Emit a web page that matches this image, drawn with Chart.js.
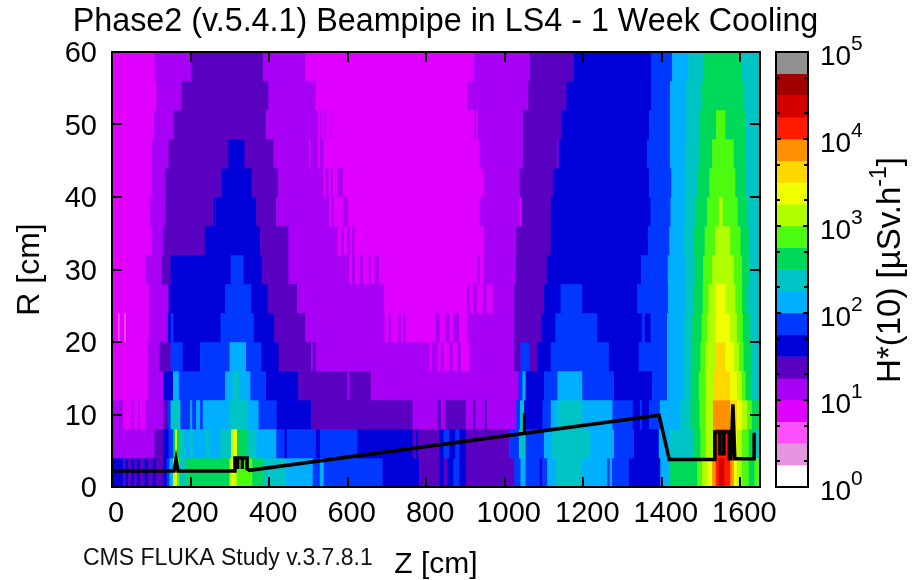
<!DOCTYPE html>
<html>
<head>
<meta charset="utf-8">
<title>Phase2 Beampipe</title>
<script src="https://cdn.jsdelivr.net/npm/chart.js@4"></script>
<style>
  html, body { margin: 0; padding: 0; background: #fff; }
  #mapa { position: absolute; left: 0; top: 0; }
  #barra { position: absolute; left: 760px; top: 0; }
</style>
</head>
<body>
<canvas id="mapa" width="912" height="580"></canvas>
<canvas id="barra" width="152" height="580"></canvas>
<script>
const rEdges = [0, 4, 8, 12, 16, 20, 24, 28, 32, 36, 40, 44, 48, 52, 56, 60];
const zTicks = [0, 200, 400, 600, 800, 1000, 1200, 1400, 1600];
const doseEdges = [1, 1.78, 3.16, 5.62, 10, 17.8, 31.6, 56.2, 100, 178, 316, 562, 1000, 1780, 3160, 5620, 10000, 17800, 31600, 56200, 100000];
const doseTicks = [1, 2, 5, 10, 20, 50, 100, 200, 500, 1000, 2000, 5000, 10000, 20000, 50000, 100000];
const doseExponents = [0, 1, 2, 3, 4, 5];
const levelColors = ['#ffffff', '#e696e0', '#ff50ff', '#e000ff', '#a800f5', '#5a00c0', '#0000d8', '#0038ff',
  '#00b0ff', '#00c4c4', '#00d85a', '#4cfb10', '#b0ff00', '#f0ff00', '#ffd800', '#ff9000', '#ff1a00', '#d40000', '#a00000', '#909090'];

// each R band: runs of [Z where the run ends, dose level]
const band00 = [[29,6],[36,5],[42,6],[50,5],[56,6],[64,5],[72,6],[84,5],[92,6],[105,5],[112,6],[131,5],[140,6],[147,7],[156,8],[160,12],[166,13],[172,11],[190,9],[300,10],[305,12],[312,13],[319,12],[358,11],[385,10],[444,9],[512,8],[530,7],[540,8],[690,7],[783,6],[834,5],[845,6],[855,5],[870,6],[885,7],[902,6],[1025,5],[1041,7],[1054,8],[1090,7],[1096,6],[1109,7],[1130,8],[1198,9],[1262,8],[1268,7],[1274,8],[1317,7],[1397,6],[1420,8],[1491,10],[1503,11],[1516,12],[1529,13],[1538,15],[1546,16],[1560,17],[1575,16],[1584,15],[1592,13],[1605,12],[1622,11],[1637,10],[1650,11]];
const band01 = [[24,4],[109,4],[131,5],[145,6],[157,7],[162,10],[166,13],[172,10],[186,9],[200,8],[206,9],[240,8],[248,9],[276,8],[304,9],[309,12],[319,13],[332,10],[347,10],[368,9],[419,8],[440,7],[446,6],[452,7],[520,7],[530,6],[540,7],[626,7],[652,6],[766,6],[775,5],[780,6],[834,5],[845,6],[860,7],[875,6],[885,7],[902,6],[1012,5],[1037,7],[1054,9],[1101,7],[1122,8],[1219,9],[1279,8],[1330,7],[1393,6],[1419,8],[1482,9],[1499,10],[1512,11],[1531,12],[1537,15],[1575,16],[1584,15],[1592,13],[1605,12],[1622,11],[1635,10],[1650,9]];
const band02 = [[29,4],[50,3],[56,4],[68,3],[72,4],[86,3],[131,4],[143,5],[150,7],[175,9],[200,7],[205,8],[215,7],[225,8],[232,7],[240,8],[300,8],[345,9],[374,8],[420,7],[508,6],[766,5],[830,4],[838,5],[850,4],[862,5],[880,5],[902,5],[920,4],[926,5],[950,4],[956,5],[1030,4],[1040,7],[1050,9],[1097,6],[1118,7],[1135,8],[1198,9],[1275,8],[1327,7],[1345,6],[1350,7],[1368,6],[1396,7],[1448,8],[1474,9],[1497,10],[1512,11],[1531,12],[1575,15],[1592,14],[1605,13],[1618,12],[1630,11],[1650,10]];
const band03 = [[92,3],[132,4],[156,6],[171,8],[289,7],[308,8],[324,9],[353,8],[393,7],[461,6],[475,6],[480,5],[600,5],[605,4],[615,5],[660,5],[1036,4],[1046,7],[1054,8],[1101,6],[1135,7],[1198,8],[1279,7],[1376,6],[1414,7],[1457,8],[1476,9],[1495,10],[1512,11],[1533,12],[1575,14],[1592,13],[1605,12],[1614,11],[1629,10],[1650,9]];
const band04 = [[92,3],[122,4],[150,5],[181,7],[225,6],[241,7],[300,7],[342,8],[381,7],[425,6],[508,5],[512,4],[520,5],[530,4],[809,4],[815,3],[830,4],[838,3],[846,4],[860,3],[868,4],[880,3],[890,4],[910,3],[925,4],[1025,4],[1041,5],[1063,7],[1084,5],[1118,6],[1266,7],[1342,6],[1414,7],[1457,8],[1478,9],[1499,10],[1512,11],[1537,12],[1563,14],[1584,13],[1597,12],[1609,11],[1629,10],[1650,9]];
const band05 = [[16,3],[20,2],[32,3],[36,2],[95,3],[143,4],[150,6],[157,7],[165,6],[277,6],[362,7],[414,6],[493,5],[500,4],[695,4],[705,3],[712,4],[730,3],[736,4],[742,3],[748,4],[810,3],[825,3],[835,4],[850,3],[860,4],[870,3],[885,4],[905,3],[915,4],[1025,4],[1095,5],[1130,6],[1236,7],[1350,6],[1357,7],[1372,6],[1414,7],[1457,8],[1478,9],[1502,10],[1516,11],[1537,12],[1575,13],[1592,12],[1607,11],[1626,10],[1650,9]];
const band06 = [[95,3],[145,4],[289,6],[355,7],[397,6],[472,5],[680,4],[694,4],[700,3],[800,3],[905,3],[912,4],[920,3],[930,4],[945,3],[955,4],[963,3],[970,3],[1025,4],[1101,5],[1143,6],[1148,7],[1180,7],[1198,7],[1204,6],[1338,6],[1417,7],[1459,8],[1482,9],[1505,10],[1520,11],[1537,12],[1563,13],[1588,12],[1605,11],[1620,10],[1650,9]];
const band07 = [[86,3],[128,4],[150,5],[303,6],[336,7],[382,6],[450,5],[605,4],[612,3],[620,4],[632,3],[640,4],[655,3],[660,4],[670,3],[681,4],[931,3],[938,4],[948,3],[1029,4],[1108,5],[1348,6],[1416,7],[1461,8],[1484,9],[1506,10],[1529,11],[1584,12],[1605,11],[1622,10],[1650,9]];
const band08 = [[102,3],[131,4],[237,5],[378,6],[450,5],[575,4],[585,3],[592,4],[600,3],[606,4],[612,3],[618,4],[635,3],[948,3],[1030,4],[1118,5],[1366,6],[1420,7],[1457,8],[1482,9],[1510,10],[1536,11],[1575,12],[1601,11],[1622,10],[1650,9]];
const band09 = [[97,3],[136,4],[260,5],[263,6],[265,5],[368,6],[419,5],[554,4],[560,3],[565,4],[570,3],[590,3],[601,4],[931,3],[936,3],[1039,4],[1044,3],[1118,5],[1372,6],[1423,7],[1459,8],[1485,9],[1516,10],[1546,11],[1556,12],[1594,11],[1618,10],[1650,9]];
const band10 = [[102,3],[136,4],[279,5],[283,6],[356,6],[424,5],[539,4],[545,3],[552,4],[558,3],[564,4],[574,3],[588,4],[937,3],[942,3],[946,3],[1039,4],[1124,5],[1368,6],[1425,7],[1461,8],[1492,9],[1522,10],[1588,11],[1614,10],[1650,9]];
const band11 = [[102,3],[145,4],[297,5],[338,6],[346,5],[412,5],[503,4],[506,3],[515,4],[525,4],[530,3],[539,4],[936,3],[1047,4],[1135,5],[1138,4],[1363,6],[1422,7],[1461,8],[1495,9],[1529,10],[1584,11],[1614,10],[1650,9]];
const band12 = [[108,3],[158,4],[393,5],[396,4],[525,4],[531,3],[534,4],[541,3],[544,4],[558,3],[561,4],[923,3],[927,4],[931,3],[936,4],[1047,4],[1146,5],[1368,6],[1422,7],[1463,8],[1495,9],[1539,10],[1563,11],[1614,10],[1650,9]];
const band13 = [[114,3],[178,4],[399,5],[519,4],[906,3],[1061,4],[1158,5],[1374,6],[1422,7],[1463,8],[1502,9],[1609,10],[1650,9]];
const band14 = [[109,3],[203,4],[385,5],[493,4],[923,3],[1065,4],[1177,5],[1374,6],[1427,7],[1468,8],[1508,9],[1605,10],[1650,9]];
const bands = [band00, band01, band02, band03, band04, band05, band06, band07, band08, band09, band10, band11, band12, band13, band14];

// beampipe outline
const pipeZ = [0, 158, 163, 168, 312, 313, 313, 320, 320, 320, 332, 332, 332, 344, 344, 350, 1393, 1419, 1535, 1535, 1548, 1548, 1558, 1558, 1548, 1548, 1558, 1558, 1572, 1572, 1576, 1581, 1586, 1635, 1635];
const pipeR = [2.2, 2.2, 3.8, 2.2, 2.2, 2.8, 4, 4, 2.5, 4, 4, 2.5, 4, 4, 2.5, 2.3, 9.9, 3.8, 3.8, 7.6, 7.6, 4.6, 4.6, 7.6, 7.6, 4.6, 4.6, 7.6, 7.6, 3.9, 3.9, 11.4, 3.9, 3.9, 7.5];
const flangeZ = [1050, 1050];
const flangeR = [7.4, 10.2];

function crearCeldas() {
  const celdas = [];
  bands.forEach(function(runs, i) {
    let inicio = 0;
    runs.forEach(function(run) {
      celdas.push({ x: [inicio, run[0]], y: (rEdges[i] + rEdges[i + 1]) / 2, level: run[1] });
      inicio = run[0];
    });
  });
  return celdas;
}

const marco = {
  id: 'marco',
  afterDatasetsDraw(chart, args, opts) {
    const ctx = chart.ctx, a = chart.chartArea;
    ctx.save();
    ctx.strokeStyle = '#000';
    ctx.lineWidth = 2;
    opts.scales.forEach(function(id) {
      const s = chart.scales[id];
      s.ticks.forEach(function(t) {
        const p = Math.round(s.getPixelForValue(t.value));
        const largo = t.major ? opts.mayor : opts.menor;
        ctx.beginPath();
        if (s.isHorizontal()) {
          ctx.moveTo(p, a.bottom); ctx.lineTo(p, a.bottom - largo);
          ctx.moveTo(p, a.top); ctx.lineTo(p, a.top + largo);
        } else {
          ctx.moveTo(a.left, p); ctx.lineTo(a.left + largo, p);
          ctx.moveTo(a.right, p); ctx.lineTo(a.right - largo, p);
        }
        ctx.stroke();
      });
    });
    ctx.strokeRect(a.left, a.top, a.right - a.left, a.bottom - a.top);
    ctx.restore();
  }
};

const pie = {
  id: 'pie',
  afterDraw(chart) {
    const ctx = chart.ctx;
    ctx.save();
    ctx.fillStyle = '#111';
    ctx.font = '23px "Liberation Sans"';
    ctx.fillText('CMS FLUKA Study v.3.7.8.1', 83, 565);
    ctx.restore();
  }
};

const rotulosBarra = {
  id: 'rotulosBarra',
  afterDraw(chart) {
    const ctx = chart.ctx, s = chart.scales.y;
    ctx.save();
    ctx.fillStyle = '#000';
    ctx.textBaseline = 'alphabetic';
    doseExponents.forEach(function(e) {
      const p = s.getPixelForValue(Math.pow(10, e));
      ctx.font = '28px "Liberation Sans"';
      ctx.fillText('10', 60, p + 13);
      ctx.font = '21px "Liberation Sans"';
      ctx.fillText(String(e), 91, p - 2);
    });
    ctx.translate(140, 270);
    ctx.rotate(-Math.PI / 2);
    const base = 'H*(10) [\u00b5Sv.h', sup = '-1', fin = ']';
    ctx.font = '33px "Liberation Sans"';
    const w1 = ctx.measureText(base).width, w3 = ctx.measureText(fin).width;
    ctx.font = '23px "Liberation Sans"';
    const w2 = ctx.measureText(sup).width;
    let x = -(w1 + w2 + w3) / 2;
    ctx.font = '33px "Liberation Sans"';
    ctx.fillText(base, x, 0);
    ctx.fillText(fin, x + w1 + w2, 0);
    ctx.font = '23px "Liberation Sans"';
    ctx.fillText(sup, x + w1, -14);
    ctx.restore();
  }
};

Chart.defaults.font.family = '"Liberation Sans", Arial, sans-serif';
Chart.defaults.color = '#000';

new Chart(document.getElementById('mapa'), {
  type: 'bar',
  data: {
    datasets: [
      { type: 'scatter', data: pipeZ.map((z, i) => ({ x: z, y: pipeR[i] })), showLine: true, borderColor: '#000', borderWidth: 3.5, pointRadius: 0, order: 0 },
      { type: 'scatter', data: flangeZ.map((z, i) => ({ x: z, y: flangeR[i] })), showLine: true, borderColor: '#000', borderWidth: 3, pointRadius: 0, order: 0 },
      { type: 'bar', data: crearCeldas(), backgroundColor: ctx => levelColors[ctx.raw.level], borderWidth: 0, barPercentage: 1, categoryPercentage: 1, order: 1 }
    ]
  },
  options: {
    indexAxis: 'y',
    responsive: false,
    animation: false,
    events: [],
    layout: { padding: { left: 0, right: 21, top: 0, bottom: 0 } },
    scales: {
      x: {
        type: 'linear', min: 0, max: 1650, offset: false,
        grid: { display: false, offset: false }, border: { display: false },
        afterBuildTicks(s) { s.ticks = zTicks.map(v => ({ value: v })); },
        afterFit(s) { s.height = 93; },
        ticks: { font: { size: 29 }, padding: 2, labelOffset: 4, maxRotation: 0, autoSkip: false, callback: v => String(v) },
        title: { display: true, text: 'Z [cm]', font: { size: 30, lineHeight: 1 }, padding: 0 }
      },
      y: {
        type: 'linear', min: 0, max: 60, offset: false,
        grid: { display: false, offset: false }, border: { display: false },
        afterFit(s) { s.width = 112; },
        ticks: { font: { size: 29 }, padding: 7, stepSize: 10, labelOffset: 2 },
        title: { display: true, text: 'R [cm]', font: { size: 32, lineHeight: 1 }, padding: { top: 14, bottom: 0 } }
      },
      margenDerecho: {
        type: 'linear', position: 'right', display: true,
        grid: { display: false }, border: { display: false }, ticks: { display: false },
        afterFit(s) { s.width = 131; }
      }
    },
    plugins: {
      legend: { display: false },
      tooltip: { enabled: false },
      title: { display: true, text: 'Phase2 (v.5.4.1) Beampipe in LS4 - 1 Week Cooling', color: '#000', font: { size: 32.3, weight: 'normal', lineHeight: 1 }, padding: { top: 6, bottom: 13.7 } },
      marco: { scales: ['x', 'y'], mayor: 10, menor: 10 }
    }
  },
  plugins: [marco, pie]
});

new Chart(document.getElementById('barra'), {
  type: 'bar',
  data: {
    labels: ['dose'],
    datasets: [{
      data: levelColors.map((c, i) => ({ x: 'dose', y: [doseEdges[i], doseEdges[i + 1]] })),
      backgroundColor: levelColors, borderWidth: 0, barPercentage: 1, categoryPercentage: 1
    }]
  },
  options: {
    responsive: false,
    animation: false,
    events: [],
    layout: { padding: { left: 16, right: 104, top: 52, bottom: 93 } },
    scales: {
      x: { display: false },
      y: {
        type: 'logarithmic', min: 1, max: 100000, display: true,
        grid: { display: false }, border: { display: false },
        afterBuildTicks(s) { s.ticks = doseTicks.map(v => ({ value: v, major: doseExponents.includes(Math.log10(v)) })); },
        afterFit(s) { s.width = 0; },
        ticks: { display: false }
      }
    },
    plugins: {
      legend: { display: false },
      tooltip: { enabled: false },
      marco: { scales: ['y'], mayor: 5, menor: 4 }
    }
  },
  plugins: [marco, rotulosBarra]
});
</script>
</body>
</html>
